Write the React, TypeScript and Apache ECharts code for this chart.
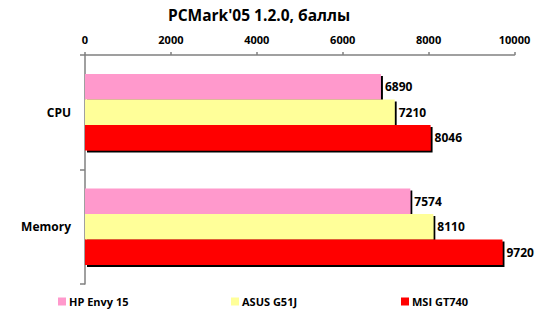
import React, { useEffect, useRef } from "react";
import * as echarts from "echarts";

const categories = ["CPU", "Memory"];
const seriesNames = ["HP Envy 15", "ASUS G51J", "MSI GT740"];
const hpEnvy = [6890, 7574];
const asusG51J = [7210, 8110];
const msiGT740 = [8046, 9720];
const colors = ["#FF99CC", "#FFFF99", "#FF0000"];
const font = "'Open Sans', 'Noto Sans', sans-serif";

export default function App() {
  const ref = useRef<HTMLDivElement>(null);
  useEffect(() => {
    if (!ref.current) return;
    const chart = echarts.init(ref.current, null, { renderer: "svg" });
    const values = [hpEnvy, asusG51J, msiGT740];
    const legendLefts = [53, 226, 396];
    chart.setOption({
      animation: false,
      title: {
        text: "PCMark'05 1.2.0, баллы",
        left: 163,
        top: 2,
        textStyle: { fontFamily: font, fontSize: 15.5, fontWeight: "bold", color: "#000" },
      },
      legend: seriesNames.map((n, i) => ({
        data: [n],
        left: legendLefts[i],
        top: 291,
        itemWidth: 8,
        itemHeight: 8,
        icon: "rect",
        itemGap: 3,
        textStyle: { fontFamily: font, fontSize: 11, fontWeight: "bold", color: "#000", padding: [0, 0, 0, -2] },
      })),
      grid: { left: 85, right: 35.5, top: 55, bottom: 26, containLabel: false },
      xAxis: {
        type: "value",
        position: "top",
        min: 0,
        max: 10000,
        interval: 2000,
        axisLine: { show: true, lineStyle: { color: "#808080", width: 1.5 } },
        axisTick: { show: true, length: 3, lineStyle: { color: "#808080", width: 1.5 } },
        axisLabel: {
          fontFamily: font,
          fontSize: 11,
          fontWeight: "bold",
          color: "#000",
          margin: 10,
          formatter: (v: number) => String(v),
        },
        splitLine: { show: false },
      },
      yAxis: {
        type: "category",
        data: categories,
        inverse: true,
        axisLine: { show: true, lineStyle: { color: "#808080", width: 1.5 } },
        axisTick: { show: true, length: 5, lineStyle: { color: "#808080", width: 1.5 } },
        axisLabel: { fontFamily: font, fontSize: 12, fontWeight: "bold", color: "#000", margin: 14 },
      },
      series: seriesNames.map((n, i) => ({
        name: n,
        type: "bar",
        data: values[i],
        barWidth: 25.5,
        barGap: "0%",
        itemStyle: {
          color: colors[i],
          shadowColor: "#000",
          shadowOffsetX: 2,
          shadowOffsetY: 2,
          shadowBlur: 0,
        },
        label: {
          show: true,
          position: "right",
          distance: 4,
          fontFamily: font,
          fontSize: 12,
          fontWeight: "bold",
          color: "#000",
        },
      })),
    });
    return () => chart.dispose();
  }, []);
  return <div ref={ref} style={{ width: 550, height: 310, position: "absolute", left: 0, top: 0 }} />;
}
